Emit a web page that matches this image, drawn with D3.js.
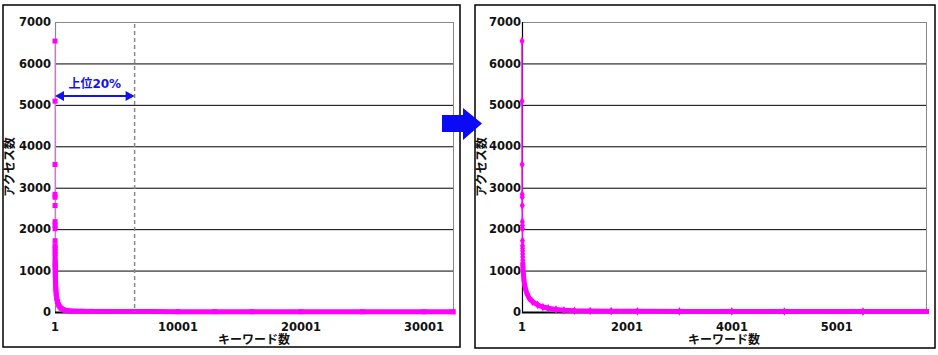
<!DOCTYPE html>
<html>
<head>
<meta charset="utf-8">
<script src="https://cdn.jsdelivr.net/npm/d3@7/dist/d3.min.js"></script>
<style>
body { margin: 0; background: #fff; }
svg text { font-family: "DejaVu Sans", "Noto Sans CJK JP", sans-serif; font-weight: bold; }
</style>
</head>
<body>
<svg id="chart" width="938" height="355"></svg>
<script>
// keyword rank (1 = most accessed) and access count
var ranks  = [1, 2, 3, 4, 5, 6, 7, 8, 9, 10, 11, 12, 13, 14, 15, 16, 17, 18, 20, 24, 30, 40, 50, 70, 100, 140, 200, 300, 400, 500, 650, 800, 1000, 1300, 1700, 2200, 3000, 4000, 5000, 6500, 8000, 10000, 13000, 16000, 20000, 25000, 30000, 32360];
var access = [6540, 5090, 3560, 2840, 2770, 2570, 2180, 2090, 2010, 1720, 1600, 1540, 1470, 1400, 1330, 1250, 1190, 1130, 1080, 980, 880, 760, 670, 550, 430, 330, 250, 170, 120, 90, 60, 40, 30, 24, 20, 17, 15, 13, 12, 11, 10, 9, 8, 7, 6, 5, 4, 4];
var totalKeywords = 32360;
var zoomKeywords = 7700;   // right chart shows the head only
var bandFrom = 18;         // from this rank the markers merge into a solid band

var yTicks = [0, 1000, 2000, 3000, 4000, 5000, 6000, 7000];
var leftXTicks = [1, 10001, 20001, 30001];
var leftXLabels = ["1", "10001", "20001", "30001"];
var rightXTicks = [1, 2001, 4001, 6001];
var rightXLabels = ["1", "2001", "4001", "5001"];
var topShare = 0.2;

var data = ranks.map(function(r, i) { return {rank: r, value: access[i]}; });

var svg = d3.select("#chart");

function drawPanel(opt) {
	var g = svg.append("g");

	g.append("rect")
		.attr("x", opt.box[0]).attr("y", opt.box[1])
		.attr("width", opt.box[2]).attr("height", opt.box[3])
		.attr("fill", "#fff").attr("stroke", "#000").attr("stroke-width", 1.5);

	var x = d3.scaleLinear().domain([1, opt.maxRank]).range([opt.x0, opt.x1]);
	var y = d3.scaleLinear().domain([0, 7000]).range([312, 22]);

	// gridlines
	g.selectAll(".grid").data(yTicks).enter().append("line")
		.attr("x1", opt.x0).attr("x2", opt.x1)
		.attr("y1", function(d) { return y(d) + 0.5; })
		.attr("y2", function(d) { return y(d) + 0.5; })
		.attr("stroke", function(d) { return d == 7000 ? "#888" : "#000"; })
		.attr("stroke-width", 1);
	g.append("line")
		.attr("x1", opt.x1 + 0.5).attr("x2", opt.x1 + 0.5)
		.attr("y1", y(7000)).attr("y2", y(0))
		.attr("stroke", "#888");
	g.append("line")
		.attr("x1", opt.x0 + 0.5).attr("x2", opt.x0 + 0.5)
		.attr("y1", y(7000)).attr("y2", y(0) + 1)
		.attr("stroke", opt.axisColor).attr("stroke-width", 1.2);
	g.append("line")
		.attr("x1", opt.x0).attr("x2", opt.x1)
		.attr("y1", y(0) + 0.5).attr("y2", y(0) + 0.5)
		.attr("stroke", "#000").attr("stroke-width", 2);

	// y labels
	g.selectAll(".ylab").data(yTicks).enter().append("text")
		.attr("x", opt.x0 - opt.labelGap)
		.attr("y", function(d) { return y(d); })
		.attr("dy", "0.36em")
		.attr("text-anchor", "end")
		.attr("font-size", 11.5)
		.attr("fill", "#111")
		.text(function(d) { return d; });

	// x labels
	g.selectAll(".xlab").data(opt.xTicks).enter().append("text")
		.attr("x", function(d) { return x(d); })
		.attr("y", 331)
		.attr("text-anchor", "middle")
		.attr("font-size", 11.5)
		.attr("fill", "#111")
		.text(function(d, i) { return opt.xLabels[i]; });

	g.append("text")
		.attr("x", (opt.x0 + opt.x1) / 2).attr("y", 344)
		.attr("text-anchor", "middle").attr("font-size", 12).attr("fill", "#111")
		.text("キーワード数");
	g.append("text")
		.attr("transform", "translate(" + opt.titleX + "," + (y(3500)) + ") rotate(-90)")
		.attr("dy", "0.36em")
		.attr("text-anchor", "middle").attr("font-size", 12).attr("fill", "#111")
		.text("アクセス数");

	var clipId = "clip" + opt.id;
	svg.append("clipPath").attr("id", clipId).append("rect")
		.attr("x", opt.x0 - 5).attr("y", 0)
		.attr("width", opt.x1 - opt.x0 + 8).attr("height", 320);

	var plot = g.append("g").attr("clip-path", "url(#" + clipId + ")");
	var line = d3.line().x(function(d) { return x(d.rank); }).y(function(d) { return y(d.value); });

	plot.append("path").datum(data)
		.attr("d", line).attr("fill", "none")
		.attr("stroke", opt.lineColor).attr("stroke-width", opt.lineWidth);

	plot.append("path").datum(data.filter(function(d) { return d.rank >= bandFrom; }))
		.attr("d", line).attr("fill", "none")
		.attr("stroke", "#ff00ff").attr("stroke-width", 5)
		.attr("stroke-linejoin", "round").attr("stroke-linecap", "square");

	if (opt.marker == "square") {
		plot.selectAll(".pt").data(data).enter().append("rect")
			.attr("x", function(d) { return x(d.rank) - 2.5; })
			.attr("y", function(d) { return y(d.value) - 2.5; })
			.attr("width", 5).attr("height", 5)
			.attr("fill", "#ff00ff");
	} else {
		plot.selectAll(".pt").data(data).enter().append("path")
			.attr("d", d3.symbol().type(d3.symbolDiamond).size(22))
			.attr("transform", function(d) { return "translate(" + x(d.rank) + "," + y(d.value) + ")"; })
			.attr("fill", "#ff00ff");
	}
	return {x: x, y: y, g: g};
}

var left = drawPanel({id: "L", box: [3, 5, 457, 342], x0: 55, x1: 453, maxRank: totalKeywords,
	xTicks: leftXTicks, xLabels: leftXLabels, labelGap: 4, titleX: 10, axisColor: "#888",
	lineColor: "#ee82ee", lineWidth: 1, marker: "square"});

var right = drawPanel({id: "R", box: [475, 5, 460, 343], x0: 522, x1: 926, maxRank: zoomKeywords,
	xTicks: rightXTicks, xLabels: rightXLabels, labelGap: 1, titleX: 482, axisColor: "#000",
	lineColor: "#ff00ff", lineWidth: 1.5, marker: "diamond"});

// top 20% marker on the left chart
var cut = left.x(1 + totalKeywords * topShare);
left.g.append("line")
	.attr("x1", cut).attr("x2", cut)
	.attr("y1", left.y(7000) + 2).attr("y2", left.y(0))
	.attr("stroke", "#888").attr("stroke-width", 1.5).attr("stroke-dasharray", "4,3");

var blue = "#1212f0";
var ay = 96, ax0 = left.x(1), ax1 = cut;
left.g.append("line")
	.attr("x1", ax0 + 6).attr("x2", ax1 - 6).attr("y1", ay).attr("y2", ay)
	.attr("stroke", blue).attr("stroke-width", 2);
left.g.append("path")
	.attr("d", "M" + ax0 + "," + ay + "l9,-5v10z M" + ax1 + "," + ay + "l-9,-5v10z")
	.attr("fill", blue);
left.g.append("text")
	.attr("x", (ax0 + ax1) / 2).attr("y", 88)
	.attr("text-anchor", "middle").attr("font-size", 12).attr("fill", blue)
	.text("上位20%");

// big arrow between panels
svg.append("path")
	.attr("d", "M442,115 H463 V108 L482,123.5 L463,140 V132 H442 Z")
	.attr("fill", "#0a0af5");
</script>
</body>
</html>
